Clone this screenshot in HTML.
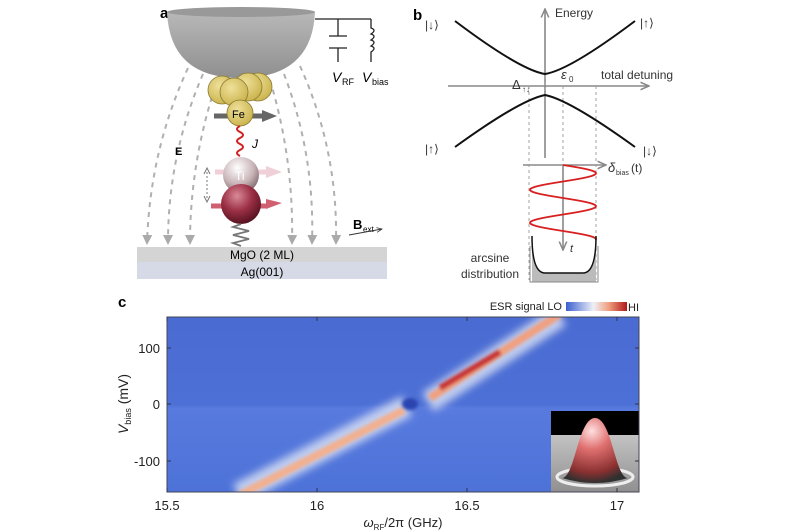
<!DOCTYPE html>
<html><head><meta charset="utf-8">
<style>
html,body{margin:0;padding:0;background:#fff;}
svg{display:block;font-family:"Liberation Sans",sans-serif;}
</style></head><body>
<svg width="800" height="530" viewBox="0 0 800 530" xmlns="http://www.w3.org/2000/svg">
<defs>
<linearGradient id="tip" x1="0" y1="0" x2="0" y2="1">
<stop offset="0" stop-color="#b8b8b8"/><stop offset="1" stop-color="#8f8f8f"/></linearGradient>
<radialGradient id="au" cx="0.4" cy="0.35" r="0.7"><stop offset="0" stop-color="#efe09a"/><stop offset="1" stop-color="#c9b24a"/></radialGradient>
<radialGradient id="ti" cx="0.4" cy="0.3" r="0.75"><stop offset="0" stop-color="#ffffff"/><stop offset="0.6" stop-color="#c9b4b8"/><stop offset="1" stop-color="#7b6468"/></radialGradient>
<radialGradient id="rd" cx="0.4" cy="0.3" r="0.75"><stop offset="0" stop-color="#d98a98"/><stop offset="0.5" stop-color="#9c3045"/><stop offset="1" stop-color="#4d0f1c"/></radialGradient>
<linearGradient id="cb" x1="0" y1="0" x2="1" y2="0">
<stop offset="0" stop-color="#3a5fd0"/><stop offset="0.45" stop-color="#eef0f6"/><stop offset="0.7" stop-color="#f0a080"/><stop offset="1" stop-color="#b01818"/></linearGradient>
<linearGradient id="bg" x1="0" y1="0" x2="0" y2="1">
<stop offset="0" stop-color="#4a6bd2"/><stop offset="0.5" stop-color="#4d70d6"/><stop offset="0.52" stop-color="#587ade"/><stop offset="1" stop-color="#4d72d8"/></linearGradient>
<filter id="bl" x="-20%" y="-20%" width="140%" height="140%"><feGaussianBlur stdDeviation="4"/></filter>
<filter id="bl2" x="-20%" y="-20%" width="140%" height="140%"><feGaussianBlur stdDeviation="1.5"/></filter>
<radialGradient id="pk" cx="0.45" cy="0.2" r="0.8"><stop offset="0" stop-color="#ffe0e0"/><stop offset="0.35" stop-color="#e07070"/><stop offset="0.8" stop-color="#8a3030"/><stop offset="1" stop-color="#303030"/></radialGradient>
<linearGradient id="gr" x1="0" y1="0" x2="0" y2="1"><stop offset="0" stop-color="#d8d8d8"/><stop offset="1" stop-color="#909090"/></linearGradient>
<clipPath id="pc"><rect x="167" y="317" width="472" height="175"/></clipPath>
<marker id="ah" viewBox="0 0 10 10" refX="8" refY="5" markerWidth="5" markerHeight="5" orient="auto"><path d="M0,0L10,5L0,10z" fill="#aaa"/></marker>
<marker id="ag" viewBox="0 0 10 10" refX="9" refY="5" markerWidth="6" markerHeight="6" orient="auto"><path d="M0,1L9,5L0,9" fill="none" stroke="#888" stroke-width="1.6"/></marker>
<marker id="ak" viewBox="0 0 10 10" refX="9" refY="5" markerWidth="6" markerHeight="6" orient="auto"><path d="M0,1L9,5L0,9" fill="none" stroke="#333" stroke-width="1.4"/></marker>
</defs>

<!-- Panel a -->
<text x="160" y="18" font-size="15" font-weight="bold">a</text>
<!-- field lines -->
<g fill="none" stroke="#b0b0b0" stroke-width="2" stroke-dasharray="5,5" marker-end="url(#ah)">
<path d="M188,68 Q150,150 147,243"/>
<path d="M203,74 Q168,155 168,243"/>
<path d="M218,78 Q190,160 190,243"/>
<path d="M270,80 Q294,160 292,243"/>
<path d="M284,74 Q315,155 312,243"/>
<path d="M300,66 Q338,150 336,243"/>
</g>
<!-- tip -->
<path d="M167,12 Q170,78 240,78 Q312,78 315,12 Z" fill="url(#tip)"/>
<ellipse cx="241" cy="12" rx="74" ry="5" fill="#999"/>
<!-- circuit -->
<g stroke="#222" stroke-width="1.3" fill="none">
<path d="M315,19 H371"/>
<path d="M338,19 V36 M329,36 H347 M329,48 H347 M338,48 V62"/>
<path d="M371,19 V28 q6,2 0,6 q6,2 0,6 q6,2 0,6 q6,2 0,6 V62"/>
</g>
<text x="332" y="82" font-size="14" font-style="italic">V</text><text x="342" y="85" font-size="9">RF</text>
<text x="362" y="82" font-size="14" font-style="italic">V</text><text x="372" y="85" font-size="9">bias</text>
<!-- Au cluster -->
<g stroke="#8a7a30" stroke-width="0.8">
<circle cx="258" cy="87" r="14" fill="url(#au)"/>
<circle cx="222" cy="90" r="14" fill="url(#au)"/>
<circle cx="248" cy="87" r="14" fill="url(#au)"/>
<circle cx="234" cy="92" r="14" fill="url(#au)"/>
</g>
<path d="M214,116 H262" stroke="#666" stroke-width="5"/>
<path d="M262,110 L277,116 L262,122 Z" fill="#666"/>
<circle cx="240" cy="113" r="13" fill="url(#au)" stroke="#8a7a30" stroke-width="0.8"/>
<text x="232" y="118" font-size="11">Fe</text>
<path d="M240,126 q-6,3 0,6 q6,3 0,6 q-6,3 0,6 q6,3 0,6 q-6,3 0,6" fill="none" stroke="#d02020" stroke-width="2"/>
<text x="252" y="148" font-size="12" font-style="italic">J</text>
<text x="175" y="155" font-size="11" font-weight="bold">E</text>
<!-- Ti -->
<path d="M215,172 H268" stroke="#f0d0d8" stroke-width="5"/>
<path d="M266,166 L282,172 L266,178 Z" fill="#f0d0d8"/>
<circle cx="241" cy="175" r="18" fill="url(#ti)"/>
<text x="235" y="180" font-size="12" fill="#fff">Ti</text>
<path d="M211,206 H268" stroke="#d06070" stroke-width="5"/>
<path d="M266,199 L282,203 L266,209 Z" fill="#d06070"/>
<circle cx="241" cy="204" r="20" fill="url(#rd)"/>
<path d="M207,172 V198" stroke="#777" stroke-width="1" stroke-dasharray="2,2"/>
<path d="M204,174 L207,168 L210,174 M204,196 L207,202 L210,196" fill="none" stroke="#777"/>
<path d="M241,224 l-8,3 l16,4 l-16,4 l16,4 l-16,4 l8,3" fill="none" stroke="#777" stroke-width="1.8"/>
<text x="353" y="229" font-size="13" font-weight="bold">B</text><text x="363" y="232" font-size="8">ext</text>
<path d="M349,235 L382,229" stroke="#333" stroke-width="1" marker-end="url(#ak)"/>
<rect x="137" y="247" width="250" height="15" fill="#d4d4d4"/>
<rect x="137" y="262" width="250" height="17" fill="#d6dae6"/>
<text x="262" y="259" font-size="12" text-anchor="middle">MgO (2 ML)</text>
<text x="262" y="276" font-size="12" text-anchor="middle">Ag(001)</text>

<!-- Panel b -->
<text x="413" y="20" font-size="15" font-weight="bold">b</text>
<g stroke="#888" stroke-width="1.6" fill="none">
<path d="M545,158 V9" marker-end="url(#ag)"/>
<path d="M448,86 H649" marker-end="url(#ag)"/>
<path d="M523,165 H606" marker-end="url(#ag)"/>
<path d="M563,165 V250" marker-end="url(#ag)"/>
</g>
<g stroke="#999" stroke-width="0.9" stroke-dasharray="3,3">
<path d="M529,86 V280 M563,86 V165 M596,86 V280"/>
<path d="M545,76 V93"/>
</g>
<g stroke="#111" stroke-width="2" fill="none">
<path d="M455,21 Q520,70 545,74 Q570,70 635,21"/>
<path d="M455,147 Q520,100 545,95 Q570,100 635,147"/>
</g>
<g font-size="12" fill="#333">
<text x="425" y="29">|↓⟩</text><text x="640" y="27">|↑⟩</text>
<text x="425" y="153">|↑⟩</text><text x="643" y="155">|↓⟩</text>
</g>
<text x="555" y="17" font-size="12" fill="#333">Energy</text>
<text x="601" y="79" font-size="12" fill="#333">total detuning</text>
<text x="512" y="89" font-size="13" fill="#333">Δ</text><text x="522" y="92" font-size="8" fill="#333">↑↓</text>
<text x="561" y="79" font-size="13" font-style="italic" fill="#333">ε</text><text x="569" y="82" font-size="8" fill="#333">0</text>
<text x="608" y="172" font-size="13" font-style="italic" fill="#333">δ</text><text x="616" y="175" font-size="7" fill="#333">bias</text><text x="631" y="172" font-size="12" fill="#333">(t)</text>
<text x="570" y="252" font-size="11" font-style="italic" fill="#333">t</text>
<path id="sine" d="" fill="none" stroke="#d82020" stroke-width="1.8"/>
<path d="M532,236 Q532,273 545,273 H583 Q596,273 596,236 V282 H532 Z" fill="#bbb"/>
<path d="M532,236 Q532,273 545,273 H583 Q596,273 596,236" fill="none" stroke="#111" stroke-width="1.5"/>
<path d="M530,246 V282 H598 V246" fill="none" stroke="#888" stroke-width="1"/>
<text x="490" y="262" font-size="12" fill="#333" text-anchor="middle">arcsine</text>
<text x="490" y="278" font-size="12" fill="#333" text-anchor="middle">distribution</text>

<!-- Panel c -->
<text x="118" y="307" font-size="15" font-weight="bold">c</text>
<text x="562" y="310" font-size="11" text-anchor="end" fill="#222">ESR signal   LO</text>
<rect x="566" y="302" width="61" height="9" fill="url(#cb)"/>
<text x="628" y="311" font-size="11" fill="#222">HI</text>
<g clip-path="url(#pc)">
<rect x="167" y="317" width="472" height="175" fill="url(#bg)"/>
<g filter="url(#bl)">
<path d="M428,402 L560,316" stroke="#dce4f6" stroke-width="22" opacity="0.8"/>
<path d="M407,406 L238,494" stroke="#dce4f6" stroke-width="22" opacity="0.8"/>
</g>
<g filter="url(#bl2)">
<path d="M430,398 L560,314" stroke="#f0a080" stroke-width="8"/>
<path d="M440,388 L500,352" stroke="#c83030" stroke-width="6"/>
<path d="M404,410 L240,495" stroke="#f2b090" stroke-width="8"/>
</g>
<ellipse cx="410" cy="404" rx="8" ry="6" fill="#2c45b0" filter="url(#bl2)"/>
<rect x="551" y="411" width="88" height="81" fill="url(#gr)"/>
<rect x="551" y="411" width="88" height="24" fill="#000"/>
<ellipse cx="595" cy="477" rx="38" ry="9" fill="none" stroke="#eee" stroke-width="3"/>
<path d="M562,478 C575,478 578,418 595,418 C612,418 615,478 628,478 Q595,488 562,478 Z" fill="url(#pk)"/>
</g>
<rect x="167" y="317" width="472" height="175" fill="none" stroke="#445" stroke-width="1"/>
<g stroke="#334" stroke-width="1">
<path d="M167,348 h4 M167,404 h4 M167,461 h4 M639,348 h-4 M639,404 h-4 M639,461 h-4"/>
<path d="M167,492 v-4 M317,492 v-4 M467,492 v-4 M617,492 v-4 M167,317 v4 M317,317 v4 M467,317 v4 M617,317 v4"/>
</g>
<g font-size="13" fill="#222" text-anchor="middle">
<text x="167" y="510">15.5</text><text x="317" y="510">16</text><text x="467" y="510">16.5</text><text x="617" y="510">17</text>
</g>
<g font-size="13" fill="#222" text-anchor="end">
<text x="160" y="353">100</text><text x="160" y="409">0</text><text x="160" y="466">-100</text>
</g>
<text transform="translate(128,404) rotate(-90)" font-size="14" fill="#222" text-anchor="middle"><tspan font-style="italic">V</tspan><tspan font-size="9" dy="3">bias</tspan><tspan dy="-3"> (mV)</tspan></text>
<text x="403" y="527" font-size="13" fill="#222" text-anchor="middle"><tspan font-style="italic">ω</tspan><tspan font-size="8" dy="3">RF</tspan><tspan dy="-3">/2π (GHz)</tspan></text>
<script>
var d="M563,165";for(var y=165;y<=240;y+=1){var x=563+33*Math.sin(2*Math.PI*(y-165)/33*1.0+0.0);d+=" L"+x.toFixed(1)+","+y;}
document.getElementById("sine").setAttribute("d",d);
</script>
</svg>
</body></html>
